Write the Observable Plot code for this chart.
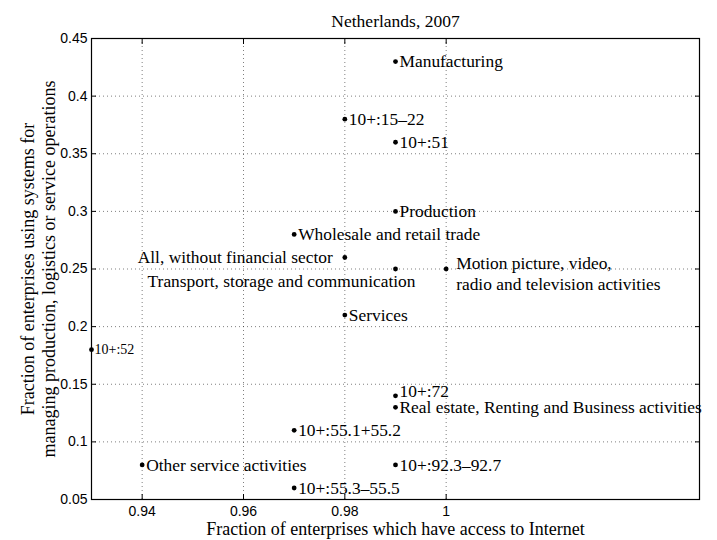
<!DOCTYPE html>
<html>
<head>
<meta charset="utf-8">
<script src="https://cdn.jsdelivr.net/npm/d3@7"></script>
<script src="https://cdn.jsdelivr.net/npm/@observablehq/plot@0.6"></script>
<style>
  html, body { margin: 0; padding: 0; background: #fff; }
</style>
</head>
<body>
<div id="chart"></div>
<script>
// ---- data ----
const titleText = "Netherlands, 2007";
const xLabel = "Fraction of enterprises which have access to Internet";
const yLabel = "Fraction of enterprises using systems for\nmanaging production, logistics or service operations";

const names = [
  "Manufacturing",
  "10+:15–22",
  "10+:51",
  "Production",
  "Wholesale and retail trade",
  "All, without financial sector",
  "Transport, storage and communication",
  "Motion picture, video,\nradio and television activities",
  "Services",
  "10+:52",
  "10+:72",
  "Real estate, Renting and Business activities",
  "10+:55.1+55.2",
  "Other service activities",
  "10+:92.3–92.7",
  "10+:55.3–55.5"
];
const internet = [0.99, 0.98, 0.99, 0.99, 0.97, 0.98, 0.99, 1.00, 0.98, 0.93, 0.99, 0.99, 0.97, 0.94, 0.99, 0.97];
const systems  = [0.43, 0.38, 0.36, 0.30, 0.28, 0.26, 0.25, 0.25, 0.21, 0.18, 0.14, 0.13, 0.11, 0.08, 0.08, 0.06];

const xTicks = [0.94, 0.96, 0.98, 1];
const yTicks = [0.05, 0.1, 0.15, 0.2, 0.25, 0.3, 0.35, 0.4, 0.45];

const rows = names.map((name, i) => ({name, x: internet[i], y: systems[i]}));

// label groups (by name) for placement variants
const leftLabels = ["All, without financial sector"];
const belowLabels = ["Transport, storage and communication"];
const multiLabels = ["Motion picture, video,\nradio and television activities"];
const smallLabels = ["10+:52"];
const raisedLabels = ["10+:72"];
const special = [...leftLabels, ...belowLabels, ...multiLabels, ...smallLabels, ...raisedLabels];

const serif = "Liberation Serif, Times New Roman, serif";
const sans = "Liberation Sans, Arial, Helvetica, sans-serif";

const chart = Plot.plot({
  width: 717,
  height: 540,
  marginLeft: 91,
  marginRight: 18,
  marginTop: 38,
  marginBottom: 41,
  style: {fontFamily: serif, background: "#fff", color: "#000"},
  x: {domain: [0.93, 1.05]},
  y: {domain: [0.05, 0.45]},
  marks: [
    Plot.gridX(xTicks, {stroke: "#000", strokeOpacity: 0.5, strokeDasharray: "1,3"}),
    Plot.gridY(yTicks, {stroke: "#000", strokeOpacity: 0.5, strokeDasharray: "1,3"}),
    Plot.axisX(xTicks, {anchor: "bottom", tickSize: -5, tickPadding: 12, fontFamily: sans, fontSize: 14, tickFormat: d => String(d), label: null}),
    Plot.axisX(xTicks, {anchor: "top", tickSize: -5, fill: "none", label: null}),
    Plot.axisY(yTicks, {anchor: "left", tickSize: -5, tickPadding: 9, fontFamily: sans, fontSize: 14, tickFormat: d => String(d), label: null}),
    Plot.axisY(yTicks, {anchor: "right", tickSize: -5, fill: "none", label: null}),
    Plot.frame({stroke: "#000", strokeWidth: 1.2}),
    Plot.dot(rows, {x: "x", y: "y", r: 2.4, fill: "#000", stroke: null}),
    Plot.text(rows.filter(d => !special.includes(d.name)), {x: "x", y: "y", text: "name", textAnchor: "start", dx: 4, fontSize: 17.4, fill: "#000"}),
    Plot.text(rows.filter(d => leftLabels.includes(d.name)), {x: "x", y: "y", text: "name", textAnchor: "end", dx: -12, fontSize: 17.4, fill: "#000"}),
    Plot.text(rows.filter(d => belowLabels.includes(d.name)), {x: "x", y: "y", text: "name", textAnchor: "end", dx: 20, dy: 12, fontSize: 17.4, fill: "#000"}),
    Plot.text(rows.filter(d => multiLabels.includes(d.name)), {x: "x", y: "y", text: "name", textAnchor: "start", dx: 10, dy: 4, lineHeight: 1.16, fontSize: 17.4, fill: "#000"}),
    Plot.text(rows.filter(d => smallLabels.includes(d.name)), {x: "x", y: "y", text: "name", textAnchor: "start", dx: 3, fontSize: 14, fill: "#000"}),
    Plot.text(rows.filter(d => raisedLabels.includes(d.name)), {x: "x", y: "y", text: "name", textAnchor: "start", dx: 4, dy: -4, fontSize: 17.4, fill: "#000"}),
    Plot.text([titleText], {frameAnchor: "top", lineAnchor: "middle", dy: -17, fontSize: 17.5, fill: "#000"}),
    Plot.text([xLabel], {frameAnchor: "bottom", lineAnchor: "middle", dy: 30, fontSize: 18, fill: "#000"}),
    Plot.text([yLabel], {frameAnchor: "left", textAnchor: "middle", lineAnchor: "middle", dx: -54, rotate: -90, lineHeight: 1.2, fontSize: 18, fill: "#000"})
  ]
});
document.getElementById("chart").appendChild(chart);
</script>
</body>
</html>
